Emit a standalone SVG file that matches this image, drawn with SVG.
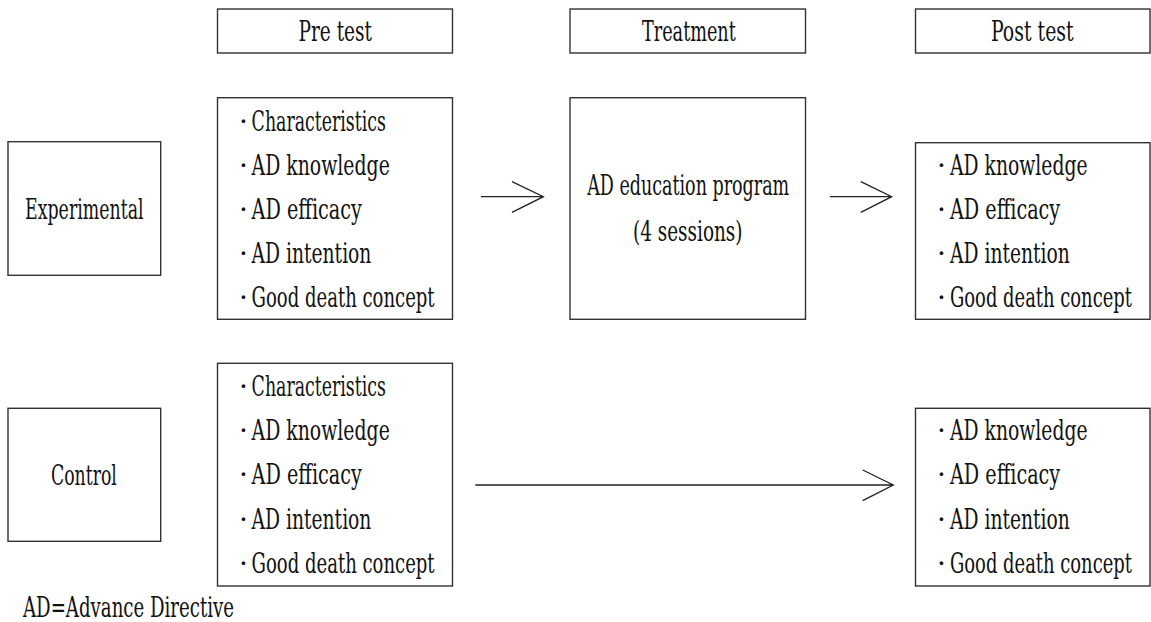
<svg xmlns="http://www.w3.org/2000/svg" width="1151" height="622" viewBox="0 0 1151 622">
<style>
.box{fill:#fff;stroke:#333;stroke-width:1.4}
.t{font-family:"DejaVu Serif Condensed","DejaVu Serif","Liberation Serif",serif;font-stretch:condensed;font-size:28px;fill:#111}
.b{font-family:"DejaVu Serif","Liberation Serif",serif;font-size:28px;fill:#111;text-anchor:middle}
.ln{fill:none;stroke:#222;stroke-width:1.3}
</style>
<rect width="1151" height="622" fill="#fff"/>
<g id="hdr-pre"><rect class="box" x="217.5" y="9" width="235" height="44"/><text class="t" x="298.5" y="41" textLength="73.5" lengthAdjust="spacingAndGlyphs">Pre test</text></g>
<g id="hdr-treat"><rect class="box" x="570" y="9" width="235.5" height="44"/><text class="t" x="642" y="41" textLength="93.8" lengthAdjust="spacingAndGlyphs">Treatment</text></g>
<g id="hdr-post"><rect class="box" x="915.5" y="9" width="234.5" height="44"/><text class="t" x="991" y="41" textLength="82.6" lengthAdjust="spacingAndGlyphs">Post test</text></g>
<g id="grp-exp"><rect class="box" x="8" y="141.7" width="152.7" height="133.6"/><text class="t" x="25" y="219" textLength="118.6" lengthAdjust="spacingAndGlyphs">Experimental</text></g>
<g id="grp-ctrl"><rect class="box" x="8" y="408.3" width="152.7" height="133"/><text class="t" x="51" y="485" textLength="65.8" lengthAdjust="spacingAndGlyphs">Control</text></g>
<g id="pre-exp"><rect class="box" x="217.5" y="97.7" width="235" height="221.6"/>
<text class="b" x="243.5" y="130.7">·</text><text class="t" x="251.6" y="130.7" textLength="134.3" lengthAdjust="spacingAndGlyphs">Characteristics</text>
<text class="b" x="243.5" y="175">·</text><text class="t" x="251.6" y="175" textLength="138.2" lengthAdjust="spacingAndGlyphs">AD knowledge</text>
<text class="b" x="243.5" y="219">·</text><text class="t" x="251.6" y="219" textLength="110.2" lengthAdjust="spacingAndGlyphs">AD efficacy</text>
<text class="b" x="243.5" y="263.3">·</text><text class="t" x="251.6" y="263.3" textLength="119.8" lengthAdjust="spacingAndGlyphs">AD intention</text>
<text class="b" x="243.5" y="307.3">·</text><text class="t" x="251.6" y="307.3" textLength="183" lengthAdjust="spacingAndGlyphs">Good death concept</text>
</g>
<g id="treat-exp"><rect class="box" x="570" y="97.7" width="235.5" height="221.6"/>
<text class="t" x="587.2" y="195" textLength="202" lengthAdjust="spacingAndGlyphs">AD education program</text>
<text class="t" x="633" y="240.5" textLength="109.5" lengthAdjust="spacingAndGlyphs">(4 sessions)</text>
</g>
<g id="post-exp"><rect class="box" x="915.5" y="142.7" width="234.5" height="176.6"/>
<text class="b" x="941.5" y="175">·</text><text class="t" x="950" y="175" textLength="137.5" lengthAdjust="spacingAndGlyphs">AD knowledge</text>
<text class="b" x="941.5" y="219">·</text><text class="t" x="950" y="219" textLength="110.2" lengthAdjust="spacingAndGlyphs">AD efficacy</text>
<text class="b" x="941.5" y="263.3">·</text><text class="t" x="950" y="263.3" textLength="119.8" lengthAdjust="spacingAndGlyphs">AD intention</text>
<text class="b" x="941.5" y="307.3">·</text><text class="t" x="950" y="307.3" textLength="182" lengthAdjust="spacingAndGlyphs">Good death concept</text>
</g>
<g id="pre-ctrl"><rect class="box" x="217.5" y="363.3" width="235" height="222.7"/>
<text class="b" x="243.5" y="396">·</text><text class="t" x="251.6" y="396" textLength="134.3" lengthAdjust="spacingAndGlyphs">Characteristics</text>
<text class="b" x="243.5" y="440">·</text><text class="t" x="251.6" y="440" textLength="138.2" lengthAdjust="spacingAndGlyphs">AD knowledge</text>
<text class="b" x="243.5" y="484.3">·</text><text class="t" x="251.6" y="484.3" textLength="110.2" lengthAdjust="spacingAndGlyphs">AD efficacy</text>
<text class="b" x="243.5" y="529">·</text><text class="t" x="251.6" y="529" textLength="119.8" lengthAdjust="spacingAndGlyphs">AD intention</text>
<text class="b" x="243.5" y="573.3">·</text><text class="t" x="251.6" y="573.3" textLength="183" lengthAdjust="spacingAndGlyphs">Good death concept</text>
</g>
<g id="post-ctrl"><rect class="box" x="915.5" y="408.3" width="234.5" height="177.7"/>
<text class="b" x="941.5" y="440">·</text><text class="t" x="950" y="440" textLength="137.5" lengthAdjust="spacingAndGlyphs">AD knowledge</text>
<text class="b" x="941.5" y="484.3">·</text><text class="t" x="950" y="484.3" textLength="110.2" lengthAdjust="spacingAndGlyphs">AD efficacy</text>
<text class="b" x="941.5" y="529">·</text><text class="t" x="950" y="529" textLength="119.8" lengthAdjust="spacingAndGlyphs">AD intention</text>
<text class="b" x="941.5" y="573.3">·</text><text class="t" x="950" y="573.3" textLength="182" lengthAdjust="spacingAndGlyphs">Good death concept</text>
</g>
<g id="connectors">
<path class="ln" d="M481 196.7H543.4M512 181.7L543.4 196.7L512 212.3"/>
<path class="ln" d="M830 196.7H891.7M860.8 181.7L891.7 196.7L860.8 212.3"/>
<path class="ln" d="M475.3 485H893.3M862.7 470L893.3 485L862.7 500.7"/>
</g>
<g id="footnote"><text class="t" x="23" y="617" textLength="211" lengthAdjust="spacingAndGlyphs">AD=Advance Directive</text></g>
</svg>
